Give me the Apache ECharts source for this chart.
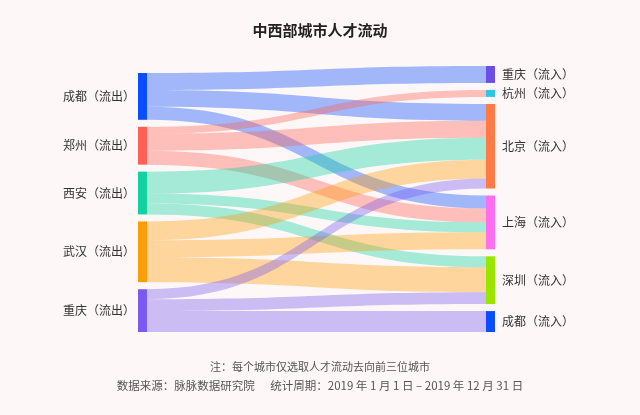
<!DOCTYPE html>
<html>
<head>
<meta charset="utf-8">
<script src="https://cdn.jsdelivr.net/npm/echarts@6/dist/echarts.min.js"></script>
<style>
html,body{margin:0;padding:0;background:#fdf8f7;}
#c{width:640px;height:415px;}
</style>
</head>
<body>
<div id="c"></div>
<script>
var sourceNodes = ['成都（流出）', '郑州（流出）', '西安（流出）', '武汉（流出）', '重庆（流出）'];
var targetNodes = ['重庆（流入）', '杭州（流入）', '北京（流入）', '上海（流入）', '深圳（流入）', '成都（流入）'];
var linkSources = ['成都（流出）', '成都（流出）', '成都（流出）',
                   '郑州（流出）', '郑州（流出）', '郑州（流出）',
                   '西安（流出）', '西安（流出）', '西安（流出）',
                   '武汉（流出）', '武汉（流出）', '武汉（流出）',
                   '重庆（流出）', '重庆（流出）', '重庆（流出）'];
var linkTargets = ['重庆（流入）', '北京（流入）', '上海（流入）',
                   '杭州（流入）', '北京（流入）', '上海（流入）',
                   '北京（流入）', '上海（流入）', '深圳（流入）',
                   '北京（流入）', '上海（流入）', '深圳（流入）',
                   '北京（流入）', '深圳（流入）', '成都（流入）'];
var linkValues = [17, 17, 13,
                  7, 17, 14,
                  22, 10, 11,
                  19, 17, 25,
                  10, 12, 21];

var sourceColors = ['#0a4cff', '#ff6157', '#12d3a0', '#ff9c0a', '#7a5af0'];
var targetColors = ['#6b4ee6', '#2ec5e8', '#ff7a45', '#ff6ef0', '#9be600', '#0a4cff'];

var nodes = [];
sourceNodes.forEach(function (n, i) {
  nodes.push({ name: n, itemStyle: { color: sourceColors[i] }, label: { position: 'left', distance: 3 } });
});
targetNodes.forEach(function (n, i) {
  nodes.push({ name: n, itemStyle: { color: targetColors[i] }, label: { position: 'right', distance: 7 } });
});
var links = linkValues.map(function (v, i) {
  return { source: linkSources[i], target: linkTargets[i], value: v };
});

var chart = echarts.init(document.getElementById('c'), null, { renderer: 'canvas' });
chart.setOption({
  backgroundColor: '#fdf8f7',
  animation: false,
  textStyle: { fontFamily: 'Noto Sans CJK SC' },
  title: {
    text: '中西部城市人才流动',
    left: 'center',
    top: 18,
    textStyle: { fontSize: 15, fontWeight: 'bold', color: '#222', fontFamily: 'Noto Sans CJK SC' }
  },
  graphic: [
    {
      type: 'text', left: 'center', top: 361,
      style: { text: '注：每个城市仅选取人才流动去向前三位城市', fill: '#555', font: '11px "Noto Sans CJK SC"' }
    },
    {
      type: 'text', left: 'center', top: 380,
      style: { text: '数据来源：脉脉数据研究院      统计周期：2019 年 1 月 1 日 – 2019 年 12 月 31 日', fill: '#555', font: '11.5px "Noto Sans CJK SC"' }
    }
  ],
  series: [{
    type: 'sankey',
    left: 138,
    right: 145,
    top: 66,
    bottom: 83,
    nodeWidth: 9,
    nodeGap: 7,
    draggable: false,
    data: nodes,
    links: links,
    label: { color: '#333', fontSize: 12, fontFamily: 'Noto Sans CJK SC' },
    itemStyle: { borderWidth: 0 },
    lineStyle: { color: 'source', opacity: 0.38, curveness: 0.5 },
    emphasis: { disabled: true }
  }]
});
</script>
</body>
</html>
